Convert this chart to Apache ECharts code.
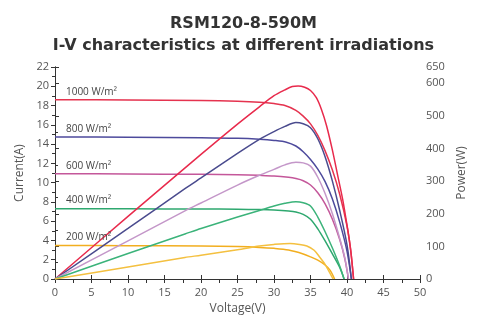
<!DOCTYPE html>
<html>
<head>
<meta charset="utf-8">
<script src="https://cdn.jsdelivr.net/npm/echarts@6/dist/echarts.min.js"></script>
<style>
html,body{margin:0;padding:0;background:#fff;}
#c{width:487px;height:320px;}
</style>
</head>
<body>
<div id="c"></div>
<script>
const titleLines = ['RSM120-8-590M', 'I-V characteristics at different irradiations'];
const irradiationLabels = ['1000 W/m²', '800 W/m²', '600 W/m²', '400 W/m²', '200 W/m²'];

// I-V curves: [voltage (V), current (A)]
const iv1000 = [[0,18.6],[10,18.58],[20,18.52],[25,18.45],[28,18.35],[30,18.2],[31.5,18.0],[33,17.5],[34,16.9],[35,16.1],[36,14.9],[37,13.3],[38,11.3],[39,8.8],[40,5.5],[40.5,3.0],[40.9,0]];
const iv800 = [[0,14.74],[10,14.72],[20,14.66],[25,14.6],[28,14.5],[30,14.38],[31.7,14.2],[33,13.8],[34,13.2],[35,12.4],[36,11.4],[37,10.1],[38,8.3],[39,5.9],[40,2.9],[40.6,0]];
const iv600 = [[0,10.92],[10,10.9],[20,10.86],[25,10.82],[28,10.76],[30,10.7],[32,10.55],[33,10.42],[34,10.2],[35,9.75],[36,8.95],[37,7.8],[38,6.2],[39,4.1],[39.7,2.1],[40.2,0]];
const iv400 = [[0,7.3],[10,7.29],[20,7.26],[25,7.24],[28,7.2],[30,7.15],[32,7.05],[33,6.95],[34,6.7],[35,6.2],[36,5.2],[37,3.95],[38,2.6],[39,1.2],[39.6,0]];
const iv200 = [[0,3.48],[10,3.46],[20,3.42],[25,3.36],[28,3.28],[30,3.18],[32,3.0],[34,2.6],[35,2.3],[36,1.95],[37,1.45],[37.7,0.9],[38.3,0]];

// P-V curves: [voltage (V), power (W)]
const pv1000 = [[0,0],[10,192],[20,382],[25,475],[28,528],[30,562],[31.5,580],[32.5,590],[33.3,592],[34.2,588],[35,578],[35.8,556],[36.5,520],[37.2,470],[38,395],[38.7,320],[39.4,245],[40,165],[40.5,90],[40.9,0]];
const pv800 = [[0,0],[10,155],[17.8,277],[20,310],[25,385],[28,428],[30,452],[31.5,468],[33,480],[34,476],[35,464],[36,430],[37,375],[38,300],[39,210],[40,105],[40.6,0]];
const pv600 = [[0,0],[10,117],[17.8,209],[20,233],[25,288],[28,318],[30,336],[31.5,350],[33,358],[34,356],[35,346],[36,312],[37,262],[38,200],[39,125],[39.7,65],[40.2,0]];
const pv400 = [[0,0],[10,78],[17.8,138],[20,155],[25,190],[28,210],[30,224],[31.5,232],[33,237],[34,234],[35,224],[36,190],[37,145],[38,95],[39,40],[39.6,0]];
const pv200 = [[0,0],[10,37],[17.8,66],[20,73],[25,90],[28,101],[30,106],[32.2,109],[33.5,106],[34.5,101],[35.5,88],[36.3,66],[37,45],[37.9,8],[38.1,0]];

const ivCurves = [iv1000, iv800, iv600, iv400, iv200];
const pvCurves = [pv1000, pv800, pv600, pv400, pv200];
const ivColors = ['#e5334f', '#4d4a9c', '#c4579a', '#2ea86f', '#f2ae1f'];
const pvColors = ['#e82a4c', '#4a4b8e', '#c497c9', '#3bb37a', '#f4c040'];

const series = [];
ivCurves.forEach((d, k) => {
  series.push({
    type: 'line', xAxisIndex: 0, yAxisIndex: 0, data: d,
    smooth: 0.3, showSymbol: false, silent: true,
    lineStyle: {color: ivColors[k], width: 1.5},
    z: 3,
    markPoint: {
      symbol: 'circle', symbolSize: 0, silent: true,
      data: [{coord: [1.5, d[0][1]]}],
      label: {show: true, formatter: irradiationLabels[k], position: [0, -13],
        color: '#444', fontSize: 10, fontFamily: 'Open Sans'}
    }
  });
});
pvCurves.forEach((d, k) => {
  series.push({
    type: 'line', xAxisIndex: 0, yAxisIndex: 1, data: d,
    smooth: 0.3, showSymbol: false, silent: true,
    lineStyle: {color: pvColors[k], width: 1.5},
    z: 3
  });
});

const labelStyle = {color: '#555', fontSize: 11, fontFamily: 'Open Sans'};
const nameStyle = {color: '#555', fontSize: 12, fontFamily: 'Open Sans'};
const lineStyle = {color: '#333', width: 1};

const chart = echarts.init(document.getElementById('c'), null, {renderer: 'canvas'});
chart.setOption({
  animation: false,
  backgroundColor: '#fff',
  title: {
    text: titleLines.join('\n'),
    left: 'center', top: 8,
    textStyle: {fontSize: 16, fontWeight: 'bold', fontFamily: 'DejaVu Sans', color: '#333', lineHeight: 22}
  },
  grid: {left: 55, right: 67, top: 67, bottom: 38},
  xAxis: [
    {type: 'value', min: 0, max: 50, interval: 5, position: 'bottom',
     name: 'Voltage(V)', nameLocation: 'middle', nameGap: 24, nameTextStyle: nameStyle,
     axisLine: {show: true, lineStyle: lineStyle},
     axisTick: {show: true, inside: true, length: 4, lineStyle: lineStyle},
     axisLabel: Object.assign({margin: 8}, labelStyle),
     splitLine: {show: false}},
    {type: 'value', min: 0, max: 50, interval: 2.5, position: 'top',
     axisLine: {show: true, lineStyle: lineStyle},
     axisTick: {show: true, inside: true, length: 4, lineStyle: lineStyle},
     axisLabel: {show: false}, splitLine: {show: false}}
  ],
  yAxis: [
    {type: 'value', min: 0, max: 22, interval: 2, position: 'left',
     name: 'Current(A)', nameLocation: 'middle', nameRotate: 90, nameGap: 24, nameTextStyle: nameStyle,
     axisLine: {show: true, lineStyle: lineStyle},
     axisTick: {show: true, length: 4, lineStyle: lineStyle},
     minorTick: {show: true, splitNumber: 2, length: 3, lineStyle: lineStyle},
     axisLabel: Object.assign({margin: 6}, labelStyle),
     splitLine: {show: false}},
    {type: 'value', min: 0, max: 650, interval: 100, position: 'right',
     name: 'Power(W)', nameLocation: 'middle', nameRotate: 90, nameGap: 36, nameTextStyle: nameStyle,
     axisLine: {show: true, lineStyle: lineStyle},
     axisTick: {show: true, length: 4, lineStyle: lineStyle},
     minorTick: {show: true, splitNumber: 2, length: 3, lineStyle: lineStyle},
     axisLabel: Object.assign({margin: 6}, labelStyle),
     splitLine: {show: false}}
  ],
  series: series
});
</script>
</body>
</html>
